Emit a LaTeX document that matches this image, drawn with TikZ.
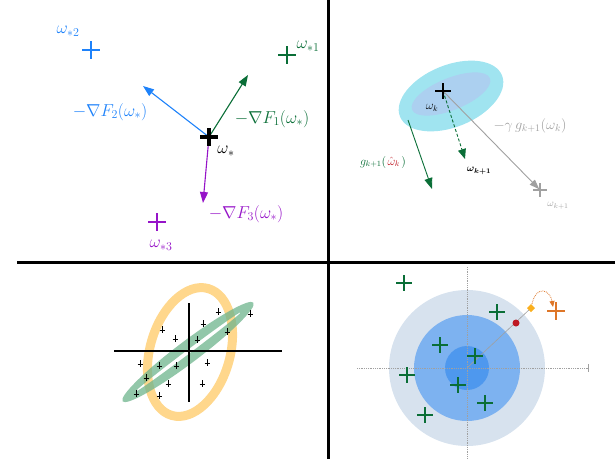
\documentclass[tikz,border=0pt]{standalone}
\usepackage{amsmath,amssymb}
\usetikzlibrary{arrows.meta}
\usetikzlibrary{calc}
\definecolor{fblue}{RGB}{30,130,250}
\definecolor{fgreen}{RGB}{10,110,55}
\definecolor{fpurple}{RGB}{150,20,200}
\definecolor{fgrey}{RGB}{160,160,160}
\definecolor{fred}{RGB}{190,25,35}
\definecolor{cyanout}{RGB}{160,228,240}
\definecolor{blueinn}{RGB}{172,208,240}
\definecolor{ringorange}{RGB}{255,215,140}
\definecolor{ringgreen}{RGB}{110,180,140}
\definecolor{discA}{RGB}{215,226,238}
\definecolor{discB}{RGB}{125,178,240}
\definecolor{discC}{RGB}{78,152,238}
\definecolor{dorange}{RGB}{222,118,40}
\definecolor{dyellow}{RGB}{250,175,30}

\begin{document}
\begin{tikzpicture}[x=1pt,y=-1pt,
	>={Triangle[length=11pt,width=8pt]},
	vec/.style={->,line width=1.1pt},
	lab/.style={font=\LARGE},
	ring/.style={line width=9pt},
	pics/pmark/.style={code={\draw[line width=1.5pt] (-#1,0) -- (#1,0) (0,-#1) -- (0,#1);}}]
	\useasboundingbox (0,0) rectangle (615,459);
	
	% quadrant frame
	\draw[line width=3pt] (328,0) -- (328,459);
	\draw[line width=3pt] (17,262) -- (615,262);
	
	% --- top left: gradients at the common optimum
	\coordinate (ws) at (209,137);
	\coordinate (g1) at (248,75);
	\coordinate (g2) at (143,86);
	\coordinate (g3) at (203,203);
	\draw[vec,fgreen] (ws) -- (g1);
	\draw[vec,fblue] (ws) -- (g2);
	\draw[vec,fpurple] (ws) -- (g3);
	\draw[line width=3.2pt] (200,137) -- (218,137) (209,128) -- (209,146);
	\node[lab] (lws) at (226,151) {$\omega_*$};
	
	\pic[fgreen] at (287,55) {pmark=9};
	\node[lab,fgreen] (lw1) at (308,46) {$\omega_{*1}$};
	\node[lab,fgreen] (lg1) at (272,119) {$-\nabla F_1(\omega_*)$};
	
	\pic[fblue] at (91,50) {pmark=9};
	\node[lab,fblue] (lw2) at (68,31) {$\omega_{*2}$};
	\node[lab,fblue] (lg2) at (110,112) {$-\nabla F_2(\omega_*)$};
	
	\pic[fpurple] at (157,222) {pmark=9};
	\node[lab,fpurple] (lw3) at (161,245) {$\omega_{*3}$};
	\node[lab,fpurple] (lg3) at (246,214) {$-\nabla F_3(\omega_*)$};
	
	% --- top right: one local step
	\fill[cyanout,rotate around={22:(451,96)}] (451,96) ellipse [x radius=55, y radius=31];
	\fill[blueinn,rotate around={22:(451,94)}] (451,94) ellipse [x radius=42, y radius=16];
	\coordinate (wk) at (443,91);
	\coordinate (wn) at (540,190);
	\coordinate (wd) at (465,159);
	\coordinate (ga) at (408,120);
	\coordinate (gb) at (432,189);
	\draw[->,fgrey,line width=0.9pt,>={Triangle[length=10pt,width=7pt]}] (wk) -- ($(wn)!1pt!(wk)$);
	\draw[->,fgreen,line width=0.9pt,densely dashed,>={Triangle[length=10pt,width=8pt]}] (wk) -- (wd);
	\draw[->,fgreen,line width=0.9pt,>={Triangle[length=11pt,width=8pt]}] (ga) -- (gb);
	\pic[black] at (wk) {pmark=8};
	\pic[fgrey] at (wn) {pmark=7};
	\node[font=\large] (lwk) at (432,108) {$\omega_k$};
	\node[font=\Large,fgrey] (lstep) at (530,126) {$-\gamma\, g_{k+1}(\omega_k)$};
	\node[font=\normalsize,fgrey] (lwn) at (558,206) {$\omega_{k+1}$};
	\node[font=\normalsize\bfseries] (lwd) at (479,171) {$\boldsymbol{\omega_{k+1}}$};
	\node[font=\large,fgreen,inner sep=0pt] (lg) at (383,162) {$g_{k+1}(\mkern2mu\textcolor{fred}{\hat\omega_k}\mkern2mu)$};
	
	% --- bottom left: two data sets
	\draw[ringorange,ring,rotate around={74:(190,352)}] (190,352) ellipse [x radius=66, y radius=40];
	\fill[ringgreen,opacity=0.75,even odd rule,rotate around={37:(188,352)}]
		(188,352) ellipse [x radius=82, y radius=11]
		(188,352) ellipse [x radius=66, y radius=2];
	\coordinate (xl) at (114,351);
	\coordinate (xr) at (282,351);
	\coordinate (yt) at (189,303);
	\coordinate (yb) at (189,402);
	\draw[line width=1.3pt] (xl) -- (xr);
	\draw[line width=1.3pt] (yt) -- (yb);
	\foreach \px/\py in {218/312, 250/314, 203/324, 227/332, 162/330, 175/339, 197/340,
		140/364, 159/366, 176/366, 207/363, 146/378, 168/384, 202/384, 136/394, 159/396}
		\draw[line width=1pt] (\px-2.5,\py) -- (\px+2.5,\py) (\px,\py-4) -- (\px,\py+3);
	
	% --- bottom right: client optima around the global one
	\coordinate (c) at (467,368);
	\fill[discA] (c) circle [radius=78];
	\fill[discB] (c) circle [radius=53];
	\fill[discC] (c) circle [radius=22];
	\draw[fgrey,densely dotted,line width=0.8pt] (357,368) -- (588,368);
	\draw[fgrey,line width=0.8pt] (588,364) -- (588,372);
	\draw[fgrey,densely dotted,line width=0.8pt] (467,267) -- (467,459);
	\coordinate (dm) at (531,308);
	\coordinate (rd) at (516,323);
	\coordinate (op) at (556,311);
	\draw[fgrey,line width=0.6pt] (c) -- (dm);
	\fill[fred] (rd) circle [radius=3.5];
	\fill[dyellow] ($(dm)+(-4,0)$) -- ($(dm)+(0,-4)$) -- ($(dm)+(4,0)$) -- ($(dm)+(0,4)$) -- cycle;
	\draw[->,dorange,densely dotted,line width=0.8pt,>={Triangle[length=6pt,width=5pt]}]
		($(dm)+(1,-4)$) .. controls (536,285) and (550,289) .. ($(op)+(-3,-4)$);
	\draw[dorange,line width=2pt] (547,311) -- (565,311) (556,302) -- (556,320);
	\foreach \px/\py in {404/283, 497/312, 440/345, 475/356, 407/375, 458/385, 485/403, 425/415}
		\pic[fgreen] at (\px,\py) {pmark=8};
\end{tikzpicture}
\end{document}
